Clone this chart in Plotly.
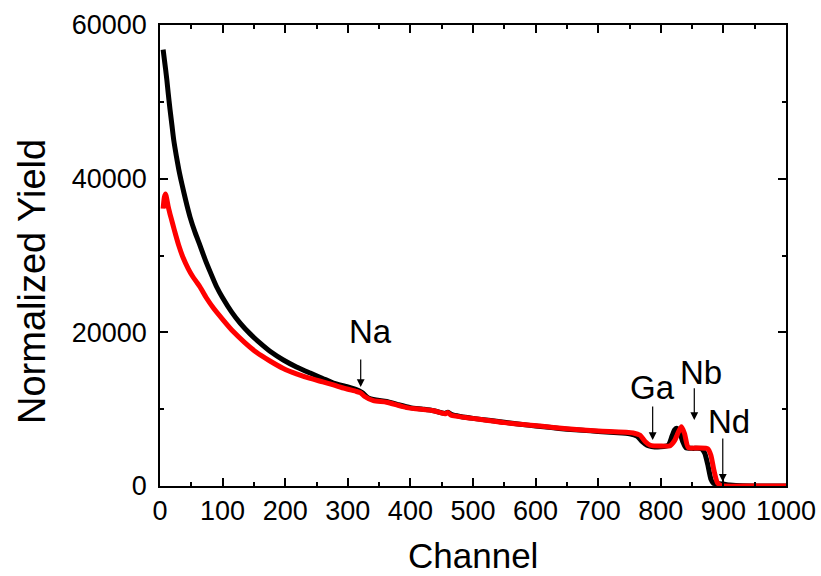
import plotly.graph_objects as go

black_ch = [5, 7, 9, 11, 13, 16, 19, 22, 26, 30, 35, 41, 48, 56, 64, 72, 80, 90, 100, 114, 128, 144,
            160, 178, 197, 218, 240, 260, 277, 300, 318, 324, 332, 345, 362, 380, 400, 420, 437, 455,
            460, 466, 480, 500, 525, 550, 575, 600, 625, 650, 675, 700, 725, 750, 762, 770, 778, 785,
            800, 812, 818, 822, 826, 830, 835, 840, 850, 865, 870, 875, 880, 884, 890, 900, 910, 920,
            950, 1000]
black_y = [56800, 55500, 54200, 52800, 51200, 49000, 47000, 45000, 43000, 41200, 39300, 37200, 35000,
           33000, 31300, 29500, 27900, 26000, 24500, 22700, 21200, 19800, 18600, 17400, 16400, 15500,
           14700, 14000, 13400, 12900, 12400, 12100, 11500, 11200, 11000, 10600, 10200, 10000, 9800,
           9450, 9600, 9300, 9050, 8800, 8550, 8300, 8050, 7800, 7600, 7400, 7250, 7100, 6950, 6800,
           6500, 5800, 5300, 5150, 5100, 5300, 6500, 7300, 7500, 7000, 5800, 5000, 4900, 4850, 4300,
           2800, 900, 350, 300, 250, 120, 50, 0, 0]

# Simulated spectrum
red_ch = [5, 7, 9, 11, 13, 16, 20, 25, 30, 37, 45, 52, 58, 64, 74, 85, 101, 117, 135, 154, 175, 197,
          218, 240, 260, 277, 295, 314, 320, 327, 341, 362, 394, 437, 455, 460, 465, 500, 550, 607,
          650, 700, 756, 767, 775, 783, 800, 815, 822, 828, 833, 838, 844, 860, 875, 880, 885, 890,
          895, 900, 950, 1000]
red_y = [36100, 37600, 38000, 37300, 36400, 35400, 34200, 32700, 31300, 29700, 28300, 27300, 26600,
         25900, 24500, 23200, 21600, 20100, 18700, 17400, 16300, 15300, 14600, 14000, 13550, 13150,
         12700, 12300, 12150, 11650, 11100, 10900, 10200, 9800, 9400, 9550, 9200, 8800, 8250, 7800,
         7450, 7150, 6900, 6600, 5800, 5300, 5200, 5250, 5900, 7000, 7700, 6800, 5000, 4950, 4850,
         4000, 2000, 500, 100, 0, 0, 0]

# Element markers: label, arrow channel, arrow tail yield, arrow head yield, text channel, text yield
elements = ["Na", "Ga", "Nb", "Nd"]
arrow_ch = [320.6, 787, 853.5, 899]
arrow_tail = [16660, 10540, 12920, 6380]
arrow_head = [12890, 5990, 8590, 560]
text_ch = [335.5, 787.5, 864, 909]
text_y = [20170, 12760, 14710, 8460]

x_title = "Channel"
y_title = "Normalized Yield"

FONT = "Liberation Sans, Arial, sans-serif"

fig = go.Figure()
fig.add_trace(go.Scatter(x=black_ch, y=black_y, mode="lines",
                         line=dict(color="black", width=5, shape="spline", smoothing=0.6),
                         showlegend=False))
fig.add_trace(go.Scatter(x=red_ch, y=red_y, mode="lines",
                         line=dict(color="#ff0000", width=5, shape="spline", smoothing=0.6),
                         showlegend=False))

annotations = []
for lab, ac, at, ah, tc, ty in zip(elements, arrow_ch, arrow_tail, arrow_head, text_ch, text_y):
    annotations.append(dict(x=tc, y=ty, xref="x", yref="y", text=lab, showarrow=False,
                            font=dict(family=FONT, size=33, color="black")))
    annotations.append(dict(x=ac, y=ah, ax=ac, ay=at, xref="x", yref="y", axref="x", ayref="y",
                            text="", showarrow=True, arrowhead=2, arrowsize=1.3, arrowwidth=1.2,
                            arrowcolor="black", standoff=0, startstandoff=0))

# Axis titles placed as paper-referenced text
annotations.append(dict(x=0.5, y=-0.151, xref="paper", yref="paper", text=x_title, showarrow=False,
                        xanchor="center", yanchor="middle",
                        font=dict(family=FONT, size=35, color="black")))
annotations.append(dict(x=-0.2045, y=0.4447, xref="paper", yref="paper", text=y_title, showarrow=False,
                        xanchor="center", yanchor="middle", textangle=-90,
                        font=dict(family=FONT, size=38, color="black")))

axis_common = dict(showline=True, linecolor="black", linewidth=1.5, mirror="ticks",
                   ticks="inside", ticklen=8, tickwidth=1.5, tickcolor="black",
                   showgrid=False, zeroline=False, tickformat="d", automargin=False,
                   tickfont=dict(family=FONT, size=27, color="black"))

fig.update_layout(
    width=821, height=576,
    margin=dict(l=160, r=35, t=25, b=90),
    paper_bgcolor="white", plot_bgcolor="white",
    xaxis=dict(range=[0, 1000], dtick=100, tick0=0,
               minor=dict(dtick=50, ticks="inside", ticklen=4, tickwidth=1.5, tickcolor="black"),
               **axis_common),
    yaxis=dict(range=[0, 60000], dtick=20000, tick0=0,
               minor=dict(dtick=10000, ticks="inside", ticklen=4, tickwidth=1.5, tickcolor="black"),
               ticklabelstandoff=6,
               **axis_common),
    annotations=annotations,
)

fig.write_html("out.html")
